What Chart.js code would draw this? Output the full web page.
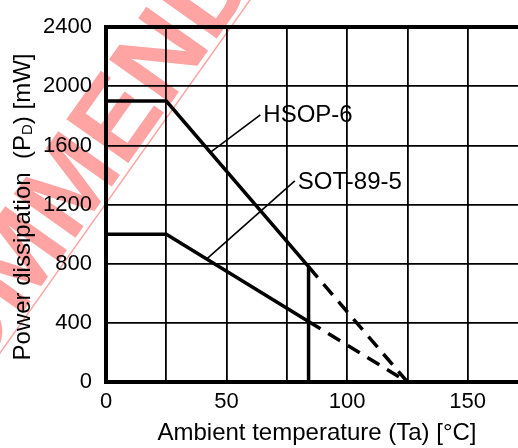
<!DOCTYPE html>
<html>
<head>
<meta charset="utf-8">
<script src="https://cdn.jsdelivr.net/npm/chart.js@4.4.1/dist/chart.umd.min.js"></script>
<style>
  html, body { margin: 0; padding: 0; background: #fff; overflow: hidden; }
  #wrap { width: 518px; height: 448px; overflow: hidden; position: relative; }
  canvas { display: block; }
</style>
</head>
<body>
<div id="wrap"><canvas id="c" width="540" height="448" style="width:540px;height:448px"></canvas></div>
<script>
// derating curves (Ta in °C, Pd in mW)
const seriesNames = ['HSOP-6', 'SOT-89-5'];
const hsopTemp = [0, 25, 84, 84];
const hsopPower = [1900, 1900, 780, 0];
const hsopDashTemp = [84, 125];
const hsopDashPower = [780, 0];
const sotTemp = [0, 25, 84];
const sotPower = [1000, 1000, 410];
const sotDashTemp = [84, 125];
const sotDashPower = [410, 0];

// leader lines from the labels to the curves
const hsopLeaderTemp = [64, 43.4];
const hsopLeaderPower = [1807, 1555];
const sotLeaderTemp = [78.3, 41.8];
const sotLeaderPower = [1360, 833];

const xTickLabels = [0, 50, 100, 150];
const yTickLabels = [0, 400, 800, 1200, 1600, 2000, 2400];

const FONT = '"Liberation Sans", Arial, sans-serif';

function pts(xs, ys) {
  return xs.map((x, i) => ({ x: x, y: ys[i] }));
}

function line(xs, ys, width, dash) {
  return {
    data: pts(xs, ys),
    borderColor: '#000',
    borderWidth: width,
    borderDash: dash || [],
    pointRadius: 0,
    fill: false,
    tension: 0
  };
}

const watermark = {
  id: 'watermark',
  beforeDraw(chart) {
    const ctx = chart.ctx;
    ctx.save();
    ctx.translate(0, 353);
    ctx.rotate(Math.atan2(-353, 250));
    ctx.fillStyle = '#ffa3a3';
    ctx.strokeStyle = '#ffa3a3';
    ctx.font = 'bold 110px ' + FONT;
    ctx.textBaseline = 'alphabetic';
    const txt = 'NOT RECOMMENDED';
    // centre of the second M sits ~176px along the guide line
    const off = ctx.measureText('NOT RECOM').width + ctx.measureText('M').width / 2;
    ctx.fillText(txt, 176 - off, -5);
    ctx.lineWidth = 1.5;
    ctx.beginPath();
    ctx.moveTo(-200, 0);
    ctx.lineTo(700, 0);
    ctx.stroke();
    ctx.restore();
  }
};

const labels = {
  id: 'labels',
  afterDatasetsDraw(chart) {
    const ctx = chart.ctx;
    const xs = chart.scales.x, ys = chart.scales.y;
    ctx.save();
    ctx.fillStyle = '#000';
    ctx.font = '24px ' + FONT;
    ctx.textBaseline = 'middle';
    ctx.textAlign = 'left';
    ctx.fillText(seriesNames[0], xs.getPixelForValue(hsopLeaderTemp[0]) + 3, ys.getPixelForValue(hsopLeaderPower[0]) + 1);
    ctx.fillText(seriesNames[1], xs.getPixelForValue(sotLeaderTemp[0]) + 3, ys.getPixelForValue(sotLeaderPower[0]) + 1);

    // y axis title with subscript D
    ctx.translate(23, 207);
    ctx.rotate(-Math.PI / 2);
    const a = 'Power dissipation  (P';
    const b = 'D';
    const c = ') [mW]';
    ctx.font = '24px ' + FONT;
    const wa = ctx.measureText(a).width;
    const wc = ctx.measureText(c).width;
    ctx.font = '15px ' + FONT;
    const wb = ctx.measureText(b).width;
    let x = -(wa + wb + wc) / 2;
    ctx.font = '24px ' + FONT;
    ctx.fillText(a, x, 0);
    x += wa;
    ctx.font = '15px ' + FONT;
    ctx.fillText(b, x, 5);
    x += wb;
    ctx.font = '24px ' + FONT;
    ctx.fillText(c, x, 0);
    ctx.restore();
  }
};

new Chart(document.getElementById('c'), {
  type: 'line',
  data: {
    datasets: [
      line(hsopTemp, hsopPower, 3.5),
      line(hsopDashTemp, hsopDashPower, 3.5, [14, 9]),
      line(sotTemp, sotPower, 3.5),
      line(sotDashTemp, sotDashPower, 3.5, [14, 9]),
      line(hsopLeaderTemp, hsopLeaderPower, 1.6),
      line(sotLeaderTemp, sotLeaderPower, 1.6)
    ]
  },
  options: {
    responsive: false,
    animation: false,
    devicePixelRatio: 1,
    layout: { padding: { top: 22, right: 12, left: 0, bottom: 0 } },
    plugins: { legend: { display: false }, tooltip: { enabled: false } },
    scales: {
      x: {
        type: 'linear',
        min: 0,
        max: 175,
        afterFit(s) { s.height = 66; },
        ticks: {
          stepSize: 25,
          autoSkip: false,
          maxRotation: 0,
          padding: 7,
          color: '#000',
          font: { family: FONT, size: 22 },
          callback: v => xTickLabels.includes(v) ? String(v) : ''
        },
        grid: { color: '#000', lineWidth: 1.8, drawTicks: false },
        border: { display: true, color: '#000', width: 4 },
        title: {
          display: true,
          text: 'Ambient temperature (Ta) [°C]',
          color: '#000',
          font: { family: FONT, size: 24 },
          padding: 0
        }
      },
      y: {
        min: 0,
        max: 2400,
        afterFit(s) { s.width = 106; },
        ticks: {
          stepSize: 400,
          padding: 14,
          color: '#000',
          font: { family: FONT, size: 22 },
          callback: v => yTickLabels.includes(v) ? String(v) : ''
        },
        grid: {
          color: '#000',
          drawTicks: false,
          lineWidth: c => (c.tick && c.tick.value === 2400) ? 4 : 1.8
        },
        border: { display: true, color: '#000', width: 4 }
      }
    }
  },
  plugins: [watermark, labels]
});
</script>
</body>
</html>
